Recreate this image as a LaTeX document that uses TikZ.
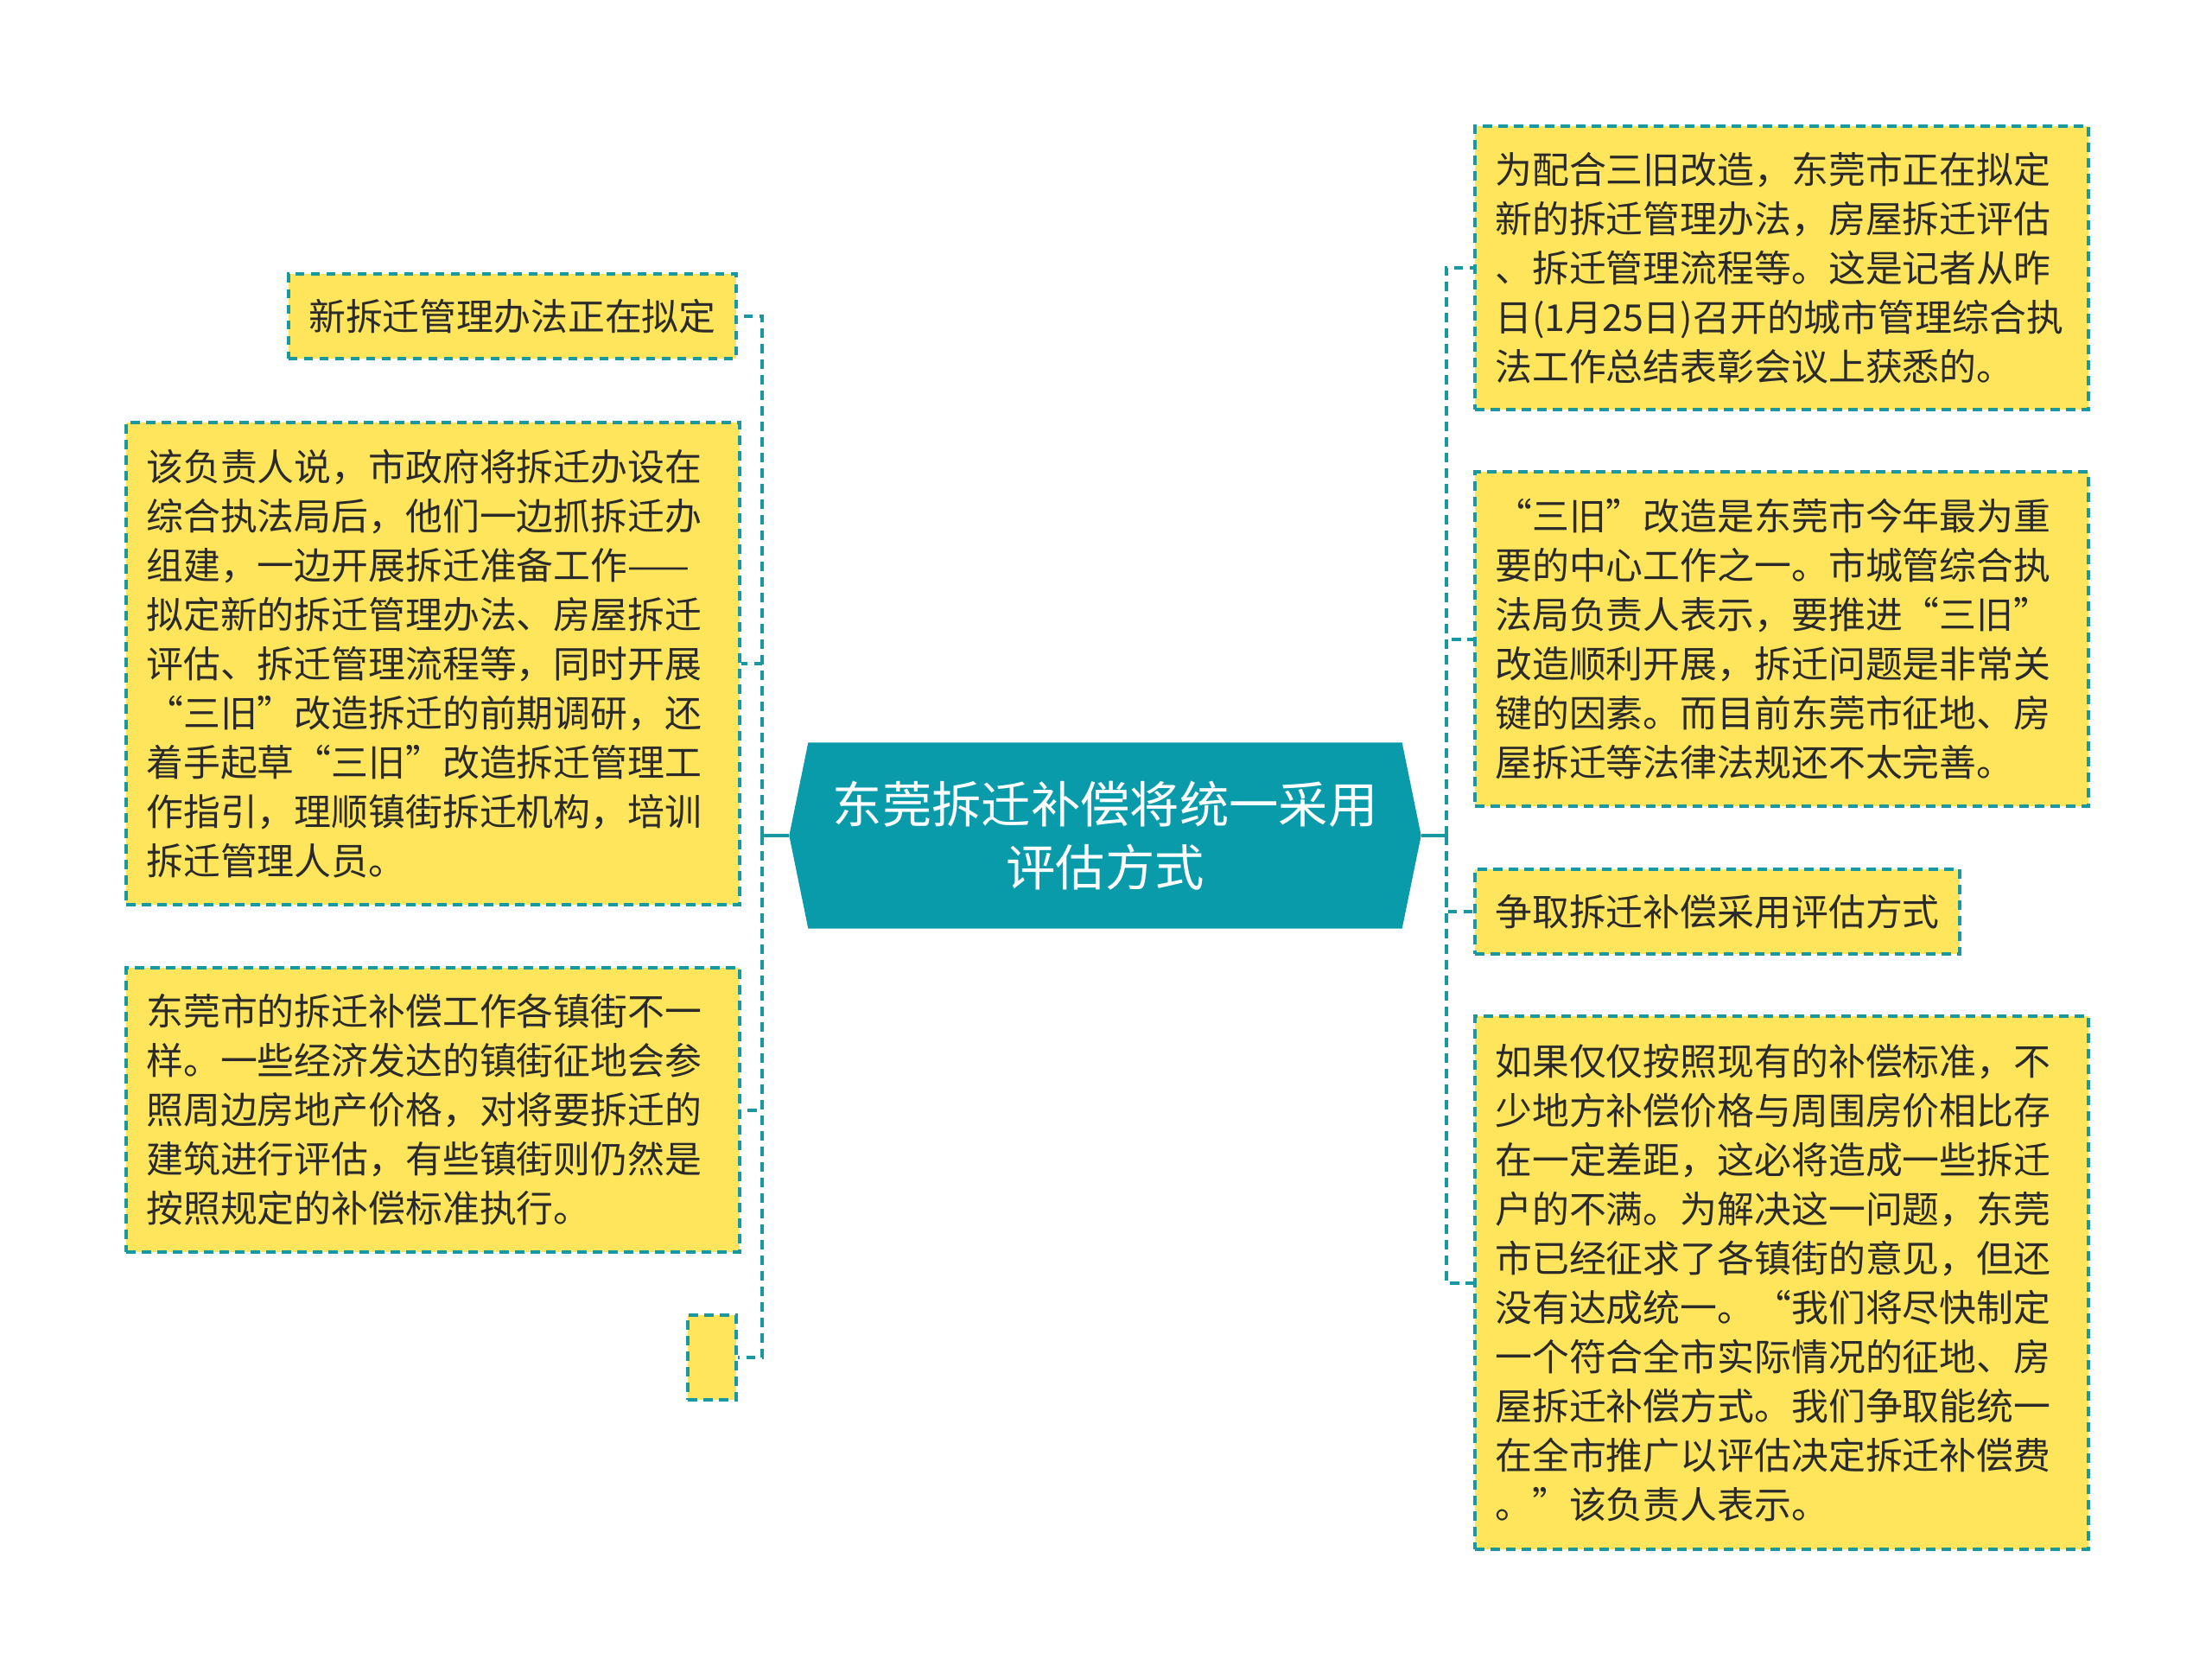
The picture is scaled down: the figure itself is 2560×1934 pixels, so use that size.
\documentclass[tikz,border=0pt]{standalone}
\usepackage{fontspec}
\newfontfamily\cjk{Noto Sans CJK SC}
\usepackage{xcolor}
\usetikzlibrary{positioning, backgrounds}
\definecolor{rootteal}{HTML}{0A9BAB}
\definecolor{linkteal}{HTML}{1A98A2}
\definecolor{leafyellow}{HTML}{FFE55C}
\definecolor{leaftext}{HTML}{2A2A2A}
\tikzset{
  leafbox/.style={
    rectangle,
    draw=linkteal,
    fill=leafyellow,
    line width=1.2pt,
    dash pattern=on 3.2pt off 2.2pt,
    text=leaftext,
    font=\cjk\fontsize{12.86pt}{17.1pt}\selectfont,
    inner xsep=7pt,
    inner ysep=5pt,
    align=left,
    anchor=north west
  },
  widebox/.style={
    leafbox,
    text width=199pt
  },
  roottext/.style={
    rectangle,
    minimum width=219pt,
    minimum height=64.2pt,
    text=white,
    font=\cjk\fontsize{17.2pt}{22pt}\selectfont,
    align=center
  },
  linkline/.style={
    draw=linkteal,
    line width=1.2pt,
    dash pattern=on 3.2pt off 2.2pt
  },
  stubline/.style={
    draw=linkteal,
    line width=1.2pt
  }
}
\begin{document}
\begin{tikzpicture}[x=0.3pt, y=-0.3pt]
  \useasboundingbox (0,0) rectangle (2560,1934);

  % centre topic
  \node[roottext] (root) at (1279,967) {东莞拆迁补偿将统一采用\\评估方式};
  \begin{scope}[on background layer]
    \fill[rootteal] (root.west) -- ([xshift=6.6pt]root.north west)
      -- ([xshift=-6.6pt]root.north east) -- (root.east)
      -- ([xshift=-6.6pt]root.south east) -- ([xshift=6.6pt]root.south west) -- cycle;
  \end{scope}

  % left side
  \node[leafbox, anchor=north east, minimum height=29.4pt] (l1) at (854,315) {新拆迁管理办法正在拟定};
  \node[widebox, minimum height=167.4pt] (l2) at (144,487)
    {该负责人说，市政府将拆迁办设在\\综合执法局后，他们一边抓拆迁办\\组建，一边开展拆迁准备工作——\\拟定新的拆迁管理办法、房屋拆迁\\评估、拆迁管理流程等，同时开展\\“三旧”改造拆迁的前期调研，还\\着手起草“三旧”改造拆迁管理工\\作指引，理顺镇街拆迁机构，培训\\拆迁管理人员。};
  \node[widebox, minimum height=98.7pt] (l3) at (144,1118)
    {东莞市的拆迁补偿工作各镇街不一\\样。一些经济发达的镇街征地会参\\照周边房地产价格，对将要拆迁的\\建筑进行评估，有些镇街则仍然是\\按照规定的补偿标准执行。};
  \node[leafbox, anchor=north east, minimum width=16.8pt, minimum height=29.4pt] (l4) at (854,1520) {};

  % right side
  \node[widebox, minimum height=98.4pt] (r1) at (1705,144)
    {为配合三旧改造，东莞市正在拟定\\新的拆迁管理办法，房屋拆迁评估\\、拆迁管理流程等。这是记者从昨\\日(1月25日)召开的城市管理综合执\\法工作总结表彰会议上获悉的。};
  \node[widebox, minimum height=116.1pt] (r2) at (1705,544)
    {“三旧”改造是东莞市今年最为重\\要的中心工作之一。市城管综合执\\法局负责人表示，要推进“三旧”\\改造顺利开展，拆迁问题是非常关\\键的因素。而目前东莞市征地、房\\屋拆迁等法律法规还不太完善。};
  \node[leafbox, minimum height=29.4pt] (r3) at (1705,1004) {争取拆迁补偿采用评估方式};
  \node[widebox, minimum height=185.1pt] (r4) at (1705,1174)
    {如果仅仅按照现有的补偿标准，不\\少地方补偿价格与周围房价相比存\\在一定差距，这必将造成一些拆迁\\户的不满。为解决这一问题，东莞\\市已经征求了各镇街的意见，但还\\没有达成统一。“我们将尽快制定\\一个符合全市实际情况的征地、房\\屋拆迁补偿方式。我们争取能统一\\在全市推广以评估决定拆迁补偿费\\。”该负责人表示。};

  % connectors
  \coordinate (lj) at ([xshift=-9.3pt]root.west);
  \coordinate (rj) at ([xshift=8.7pt]root.east);
  \draw[stubline] (root.west) -- (lj);
  \draw[stubline] (root.east) -- (rj);
  \foreach \b in {l1,l2,l3,l4}
    \draw[linkline] (lj) |- (\b.east);
  \foreach \b in {r1,r2,r3,r4}
    \draw[linkline] (rj) |- (\b.west);
\end{tikzpicture}
\end{document}
